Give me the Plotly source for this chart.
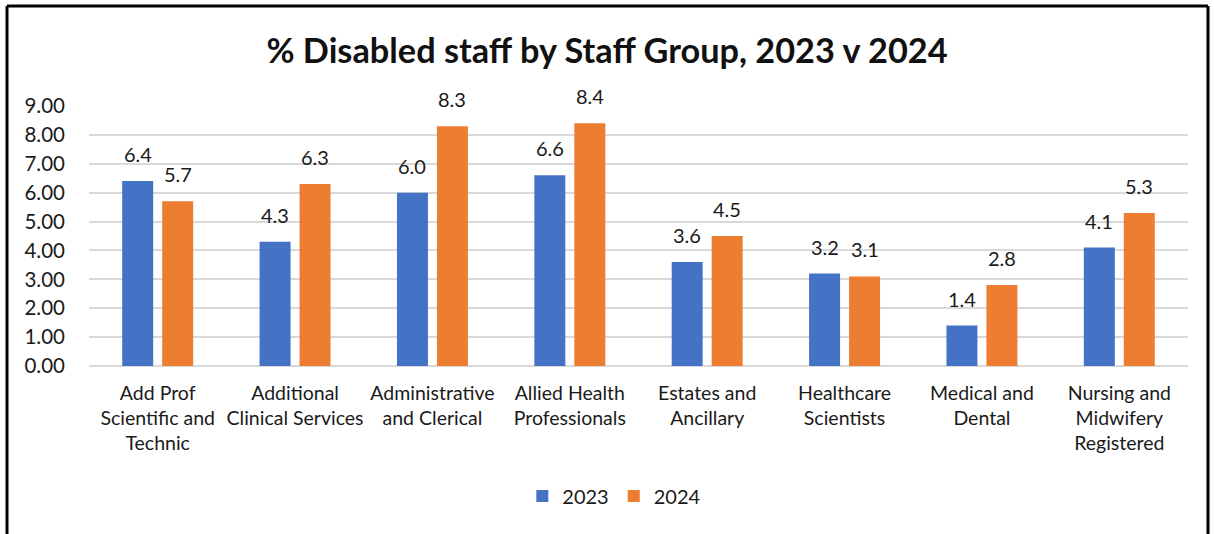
import plotly.graph_objects as go

categories = [
    "Add Prof<br>Scientific and<br>Technic",
    "Additional<br>Clinical Services",
    "Administrative<br>and Clerical",
    "Allied Health<br>Professionals",
    "Estates and<br>Ancillary",
    "Healthcare<br>Scientists",
    "Medical and<br>Dental",
    "Nursing and<br>Midwifery<br>Registered",
]
values_2023 = [6.4, 4.3, 6.0, 6.6, 3.6, 3.2, 1.4, 4.1]
values_2024 = [5.7, 6.3, 8.3, 8.4, 4.5, 3.1, 2.8, 5.3]
y_ticks = [0, 1, 2, 3, 4, 5, 6, 7, 8, 9]

FONT = "Lato, 'Open Sans', sans-serif"
TEXT = "#1a1a1a"

fig = go.Figure()
series = [("2023", values_2023, "#4472C4", -20), ("2024", values_2024, "#ED7D31", 20)]
for name, vals, color, dx in series:
    fig.add_trace(go.Bar(
        x=categories, y=vals, name=name,
        marker=dict(color=color, line=dict(width=0)),
    ))
    # value labels above each bar
    for cat, v in zip(categories, vals):
        fig.add_annotation(
            x=cat, y=v, xref="x", yref="y", text=f"{v:.1f}",
            showarrow=False, xshift=dx, yshift=13, yanchor="bottom",
            font=dict(size=20, color=TEXT, family=FONT),
        )

# frame around the chart (left, top, right edges)
frame = dict(type="line", xref="paper", yref="paper",
             line=dict(color="black", width=3))
x_left, x_right, y_top, y_bot = -0.0746, 1.0182, 1.3846, -0.7
fig.add_shape(x0=x_left, x1=x_left, y0=y_bot, y1=y_top, **frame)
fig.add_shape(x0=x_left, x1=x_right, y0=y_top, y1=y_top, **frame)
fig.add_shape(x0=x_right, x1=x_right, y0=y_bot, y1=y_top, **frame)

fig.update_layout(
    width=1214, height=534,
    margin=dict(l=89, r=26, t=106, b=168),
    paper_bgcolor="white", plot_bgcolor="white",
    font=dict(family=FONT, size=19.5, color=TEXT),
    title=dict(text="<b>% Disabled staff by Staff Group, 2023 v 2024</b>",
               x=0.5, xanchor="center", y=0.905, yanchor="middle",
               font=dict(size=34.3, color="#111111", family=FONT)),
    barmode="group", bargap=0.418, bargroupgap=0.225,
    showlegend=True,
    legend=dict(orientation="h", x=0.478, xanchor="center", y=-0.5,
                yanchor="middle", font=dict(size=20), traceorder="normal"),
    xaxis=dict(showline=False, ticks="", tickfont=dict(size=19.5),
               showgrid=False, ticklabelstandoff=13),
    yaxis=dict(range=[0, 9], tickvals=y_ticks, tickformat=".2f",
               showgrid=True, gridcolor="#d9d9d9", gridwidth=2,
               zeroline=True, zerolinecolor="#d9d9d9", zerolinewidth=2,
               ticks="", ticklabelstandoff=23, tickfont=dict(size=20.5)),
)

fig.write_html("out.html")
